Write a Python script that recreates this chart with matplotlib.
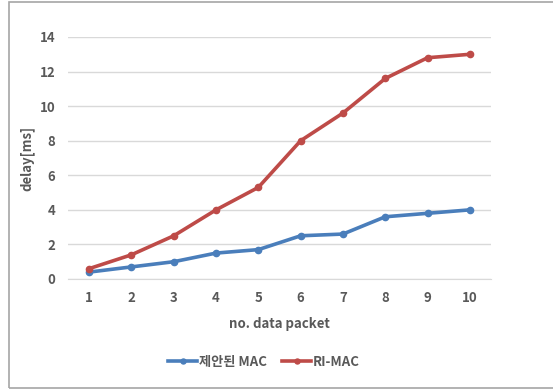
import matplotlib
matplotlib.use("Agg")
import matplotlib.pyplot as plt
from matplotlib.patches import Rectangle

plt.rcParams['font.family'] = ['Noto Sans CJK KR', 'DejaVu Sans']

packets = [1, 2, 3, 4, 5, 6, 7, 8, 9, 10]
proposed_mac = [0.4, 0.7, 1.0, 1.5, 1.7, 2.5, 2.6, 3.6, 3.8, 4.0]
ri_mac = [0.6, 1.4, 2.5, 4.0, 5.3, 8.0, 9.6, 11.6, 12.8, 13.0]
yticks = [0, 2, 4, 6, 8, 10, 12, 14]

W, H = 553, 389
fig = plt.figure(figsize=(W/100, H/100), dpi=100)
fig.patches.append(Rectangle((9/W, 1/H), 1.2, (386)/H, transform=fig.transFigure,
                             fill=False, edgecolor='#A6A6A6', linewidth=1.2))
ax = fig.add_axes([68/W, 1-279/H, (491-68)/W, (279-37)/H])

text_c = '#595959'
blue = '#4A7EBB'
red = '#BE4B48'
wt = 'semibold'
ax.plot(packets, proposed_mac, color=blue, lw=2.6, marker='o', ms=4.5, label='제안된 MAC')
ax.plot(packets, ri_mac, color=red, lw=2.6, marker='o', ms=4.5, label='RI-MAC')

ax.set_xlim(0.5, 10.5)
ax.set_ylim(0, 14)
ax.set_yticks(yticks)
ax.set_xticks(packets)
ax.grid(axis='y', color='#D9D9D9', lw=1)
ax.set_axisbelow(True)
for s in ['top', 'right', 'left']:
    ax.spines[s].set_visible(False)
ax.spines['bottom'].set_color('#D9D9D9')
ax.tick_params(length=0, labelsize=9.5, labelcolor=text_c, pad=9)
for lab in ax.get_xticklabels() + ax.get_yticklabels():
    lab.set_fontweight(wt)
ax.set_xlabel('no. data packet', fontsize=9.5, color=text_c, fontweight=wt, labelpad=8)
ax.set_ylabel('delay[ms]', fontsize=9.5, color=text_c, fontweight=wt, labelpad=4)

leg = ax.legend(loc='center', bbox_to_anchor=(264/W, 1-362/H), bbox_transform=fig.transFigure,
                ncol=2, frameon=False, fontsize=9.5, handlelength=2.2, handletextpad=0.1,
                columnspacing=1.2, markerscale=0.8)
for t in leg.get_texts():
    t.set_color(text_c)
    t.set_fontweight(wt)

fig.savefig('out.png', dpi=100)
